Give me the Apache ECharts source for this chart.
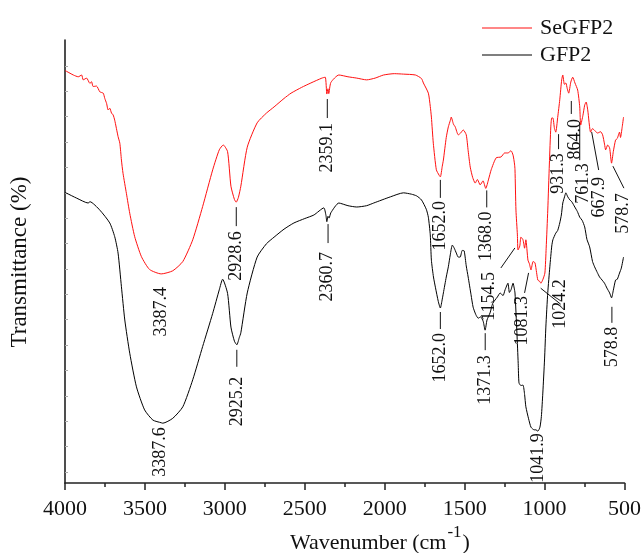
<!DOCTYPE html>
<html>
<head>
<meta charset="utf-8">
<title>FTIR SeGFP2 / GFP2</title>
<script src="https://cdn.jsdelivr.net/npm/echarts@6.0.0/dist/echarts.min.js"></script>
<style>
html, body { margin: 0; padding: 0; background: #fff; }
#main { width: 644px; height: 553px; }
</style>
</head>
<body>
<div id="main"></div>
<script>
var FONT = '"Liberation Serif", "Times New Roman", serif';

// SeGFP2 spectrum: wavenumber (cm-1) / transmittance (arbitrary)
var seWn = [4000, 3989, 3948, 3917, 3896, 3886, 3865, 3844, 3834, 3824, 3803, 3782, 3761, 3751, 3740, 3730, 3720, 3709, 3699, 3689,
  3668, 3657, 3647, 3637, 3616, 3595, 3564, 3522, 3471, 3398, 3326, 3263, 3201, 3139, 3076, 3035, 3010, 2983, 2962, 2940,
  2929, 2915, 2900, 2860, 2798, 2740, 2692, 2630, 2586, 2520, 2462, 2393, 2372, 2362, 2355, 2350, 2337, 2287, 2230, 2175,
  2113, 2060, 2007, 1940, 1883, 1808, 1770, 1758, 1727, 1715, 1708, 1696, 1677, 1660, 1652, 1640, 1633, 1615, 1602, 1590,
  1584, 1570, 1559, 1540, 1525, 1509, 1490, 1478, 1465, 1450, 1434, 1420, 1403, 1385, 1368, 1350, 1334, 1303, 1272, 1250,
  1229, 1210, 1197, 1188, 1185, 1179, 1170, 1166, 1155, 1148, 1135, 1125, 1117, 1104, 1095, 1085, 1072, 1060, 1050, 1042,
  1030, 1023, 1010, 998, 990, 980, 970, 961, 955, 948, 938, 930, 918, 905, 893, 886, 876, 867, 858, 849,
  836, 824, 810, 793, 780, 774, 760, 749, 740, 730, 712, 700, 685, 668, 650, 637, 625, 618, 605, 593,
  581, 570, 556, 545, 531, 525, 515, 506];
var seT = [93.1, 92.9, 92.1, 91.7, 92.1, 91.0, 91.4, 90.2, 90.6, 89.5, 89.6, 88.3, 88.0, 86.8, 85.7, 84.2, 84.6, 83.5, 83.1, 81.9,
  78.2, 76.7, 72.9, 69.9, 65.4, 60.9, 55.6, 51.1, 48.2, 47.2, 47.9, 50.0, 54.9, 62.4, 70.7, 75.2, 76.3, 74.8, 67.0, 64.0,
  63.4, 64.5, 67.0, 75.8, 81.3, 83.5, 84.9, 86.8, 88.0, 89.3, 90.3, 91.4, 91.6, 87.8, 89.0, 87.9, 90.4, 92.1, 91.7, 91.4,
  91.0, 91.4, 92.1, 92.4, 92.3, 92.1, 91.3, 90.3, 88.0, 85.0, 82.6, 76.7, 70.7, 69.5, 69.1, 71.5, 72.9, 78.0, 80.4, 81.8,
  82.6, 81.0, 80.4, 78.6, 79.0, 79.7, 78.6, 75.0, 71.3, 69.0, 67.7, 68.5, 67.3, 68.2, 66.5, 68.6, 70.7, 73.4, 73.6, 74.5,
  74.5, 75.0, 74.0, 72.0, 70.7, 61.6, 56.0, 52.6, 53.5, 55.5, 54.9, 53.0, 54.9, 50.3, 49.5, 48.1, 50.0, 49.7, 47.5, 45.8,
  45.5, 45.1, 46.0, 47.4, 53.0, 61.6, 72.0, 80.4, 82.4, 82.4, 80.0, 79.2, 82.5, 86.5, 91.0, 92.1, 90.0, 90.3, 89.0, 88.0,
  90.5, 91.6, 90.3, 88.7, 84.9, 80.8, 83.0, 85.3, 86.0, 84.2, 79.2, 80.0, 79.5, 79.0, 79.3, 78.6, 76.5, 75.2, 76.3, 75.6,
  72.2, 74.8, 77.4, 77.8, 79.2, 78.0, 80.2, 82.6];

// GFP2 spectrum
var gfWn = [4000, 3989, 3927, 3855, 3844, 3782, 3720, 3689, 3668, 3647, 3626, 3595, 3553, 3502, 3450, 3398, 3388, 3326, 3263, 3201,
  3139, 3076, 3035, 3014, 2983, 2962, 2940, 2925, 2910, 2900, 2860, 2798, 2740, 2692, 2630, 2568, 2500, 2443, 2381, 2368,
  2362, 2355, 2348, 2337, 2287, 2230, 2175, 2113, 2069, 1964, 1883, 1833, 1800, 1770, 1740, 1727, 1715, 1708, 1695, 1683,
  1665, 1652, 1640, 1633, 1615, 1602, 1590, 1577, 1565, 1552, 1540, 1528, 1515, 1503, 1490, 1478, 1460, 1447, 1430, 1415,
  1400, 1384, 1372, 1360, 1341, 1325, 1310, 1295, 1278, 1260, 1247, 1229, 1220, 1210, 1197, 1190, 1185, 1173, 1165, 1160,
  1148, 1135, 1125, 1117, 1100, 1085, 1065, 1054, 1042, 1029, 1020, 1011, 1000, 992, 980, 967, 955, 948, 930, 918,
  905, 895, 886, 875, 867, 855, 842, 830, 811, 795, 780, 765, 749, 735, 718, 700, 687, 670, 656, 640,
  625, 610, 593, 581, 570, 556, 545, 531, 520, 506];
var gfT = [65.6, 65.4, 64.3, 63.2, 63.5, 61.6, 58.7, 55.6, 51.9, 44.3, 36.8, 29.3, 21.7, 16.5, 14.2, 13.6, 13.5, 14.6, 17.2, 23.3,
  30.8, 38.3, 43.6, 46.0, 42.8, 35.2, 32.0, 31.2, 32.8, 33.9, 42.9, 51.0, 54.0, 55.5, 57.3, 58.7, 59.7, 60.5, 62.1, 60.5,
  59.0, 60.2, 59.8, 61.0, 63.2, 62.6, 62.3, 62.6, 63.2, 64.6, 65.5, 65.2, 64.8, 63.9, 61.8, 60.0, 56.0, 50.3, 46.5, 44.2,
  41.0, 39.5, 41.5, 42.9, 46.5, 48.8, 51.5, 53.7, 53.0, 51.9, 51.0, 51.0, 52.5, 52.4, 49.0, 46.5, 42.5, 39.7, 38.0, 37.2,
  37.5, 36.5, 34.5, 36.8, 38.4, 40.5, 41.3, 42.0, 42.9, 42.3, 43.6, 45.1, 43.0, 43.6, 45.1, 44.0, 42.9, 33.9, 27.0, 22.6,
  22.0, 22.1, 20.0, 17.2, 14.5, 12.6, 12.0, 12.0, 11.7, 12.6, 15.0, 20.3, 28.0, 35.2, 43.0, 48.8, 53.5, 54.9, 56.4, 57.0,
  58.7, 60.5, 63.2, 64.6, 65.5, 64.6, 63.9, 63.5, 62.3, 61.3, 60.0, 59.3, 57.8, 55.0, 53.3, 50.0, 48.8, 47.5, 46.5, 45.8,
  45.1, 44.0, 42.9, 41.8, 43.5, 45.8, 46.0, 47.4, 48.5, 51.0];

// peak labels: the label text is also the wavenumber, T is where the peak sits
var seLabels = ['3387.4', '2928.6', '2359.1', '1652.0', '1368.0', '1154.5', '1081.3', '1024.2', '931.3', '864.0', '761.3', '667.9', '578.7'];
var seLabelT = [47.2, 63.4, 87.8, 69.1, 66.5, 52.6, 48.1, 45.1, 79.2, 90.3, 81.0, 79.0, 72.2];
var gfLabels = ['3387.6', '2925.2', '2360.7', '1652.0', '1371.3', '1041.9', '578.8'];
var gfLabelT = [13.5, 31.2, 58.9, 39.5, 34.5, 11.7, 41.8];

// leader line offsets (px from the peak) [x1, y1, x2, y2], null = none; text top offset [dx, dy]
var seLeader = [null, [0, 5, 0, 24], [0, 5, 0, 24], [0, 3, 0, 21], [1, 2, 1, 19], [-5, -2, -19, 18], [-3, 3, -7, 23],
  [0, 5, 20, 21], [3, 2, 3, 17], [5, 18, 5, 31], [-3, -2, -3, 36], [-6, -1, 1, 37], [1, 3, 12, 25]];
var seTextOff = [[-2, 13], [0, 29], [0, 29], [0, 24], [1, 23], [-31, 22], [-9, 26], [20, -4], [3, 21], [9, 36], [1, 39], [2, 44], [11, 30]];
var gfLeader = [null, [0, 5, 0, 22], [1, 2, 1, 21], [0, 4, 0, 21], [0, 3, 0, 20], null, [0, 9, 0, 25]];
var gfTextOff = [[-3, 4], [0, 32], [0, 30], [0, 25], [0, 25], [0, 2], [0, 29]];

function pairs(w, t) {
    return w.map(function (v, i) { return [v, t[i]]; });
}

// faint inner ticks on the y axis
var yTickVals = [];
for (var i = 0; i < 17; i++) {
    yTickVals.push(2.48 + i * 5.73);
}

var chart = echarts.init(document.getElementById('main'));

var axisColor = '#222';
var option = {
    animation: false,
    backgroundColor: '#fff',
    grid: { left: 65, right: 17, top: 40, bottom: 70 },
    legend: {
        orient: 'vertical',
        left: 477,
        top: 12,
        itemWidth: 50,
        itemHeight: 1.2,
        itemGap: 5,
        icon: 'rect',
        textStyle: { fontFamily: FONT, fontSize: 22, color: '#111', lineHeight: 22, padding: [0, 0, 0, 3] },
        data: ['SeGFP2', 'GFP2']
    },
    xAxis: {
        type: 'value',
        inverse: true,
        min: 500,
        max: 4000,
        interval: 500,
        axisLine: { show: true, onZero: false, lineStyle: { color: axisColor, width: 1.6 } },
        axisTick: { show: true, length: 7, lineStyle: { color: axisColor, width: 1.5 } },
        minorTick: { show: true, splitNumber: 2, length: 4, lineStyle: { color: axisColor, width: 1.5 } },
        axisLabel: {
            margin: 15, fontFamily: FONT, fontSize: 22, color: '#111',
            formatter: function (v) { return String(v); }
        },
        splitLine: { show: false }
    },
    yAxis: {
        type: 'value',
        min: 0,
        max: 100,
        axisLine: { show: true, lineStyle: { color: axisColor, width: 1.6 } },
        axisTick: { show: true, inside: true, length: 3, customValues: yTickVals, lineStyle: { color: '#aaa', width: 1 } },
        axisLabel: { show: false },
        splitLine: { show: false }
    },
    series: [
        {
            name: 'SeGFP2',
            type: 'line',
            data: pairs(seWn, seT),
            symbol: 'none',
            smooth: 0.2,
            lineStyle: { color: '#ff1010', width: 1 },
            itemStyle: { color: '#ff1010' }
        },
        {
            name: 'GFP2',
            type: 'line',
            data: pairs(gfWn, gfT),
            symbol: 'none',
            smooth: 0.2,
            lineStyle: { color: '#000', width: 1 },
            itemStyle: { color: '#000' }
        }
    ]
};
chart.setOption(option);

/* Peak labels, placed from the data through the axes */
var elements = [];
function addLabels(labels, tVals, leaders, textOffs) {
    labels.forEach(function (txt, i) {
        var p = chart.convertToPixel({ gridIndex: 0 }, [parseFloat(txt), tVals[i]]);
        var ld = leaders[i];
        if (ld) {
            elements.push({
                type: 'line', silent: true,
                shape: { x1: p[0] + ld[0], y1: p[1] + ld[1], x2: p[0] + ld[2], y2: p[1] + ld[3] },
                style: { stroke: '#111', lineWidth: 1 }
            });
        }
        var to = textOffs[i];
        elements.push({
            type: 'text', silent: true,
            x: p[0] + to[0], y: p[1] + to[1], rotation: Math.PI / 2,
            style: { text: txt, fontFamily: FONT, fontSize: 18, fill: '#111', align: 'right', verticalAlign: 'middle' }
        });
    });
}
addLabels(seLabels, seLabelT, seLeader, seTextOff);
addLabels(gfLabels, gfLabelT, gfLeader, gfTextOff);

// axis titles
var ctx = document.createElement('canvas').getContext('2d');
ctx.font = '22px ' + FONT;
var mainW = ctx.measureText('Wavenumber (cm').width;
ctx.font = '17px ' + FONT;
var supW = ctx.measureText('-1').width;
var tx = 290;
elements.push({ type: 'text', silent: true, x: tx, y: 543,
    style: { text: 'Wavenumber (cm', fontFamily: FONT, fontSize: 22, fill: '#111', align: 'left', verticalAlign: 'middle' } });
elements.push({ type: 'text', silent: true, x: tx + mainW + 1, y: 533,
    style: { text: '-1', fontFamily: FONT, fontSize: 17, fill: '#111', align: 'left', verticalAlign: 'middle' } });
elements.push({ type: 'text', silent: true, x: tx + mainW + supW + 2, y: 543,
    style: { text: ')', fontFamily: FONT, fontSize: 22, fill: '#111', align: 'left', verticalAlign: 'middle' } });
elements.push({ type: 'text', silent: true, x: 20, y: 262, rotation: Math.PI / 2,
    style: { text: 'Transmittance (%)', fontFamily: FONT, fontSize: 23, fill: '#111', align: 'center', verticalAlign: 'middle' } });

chart.setOption({ graphic: { elements: elements } });
</script>
</body>
</html>
